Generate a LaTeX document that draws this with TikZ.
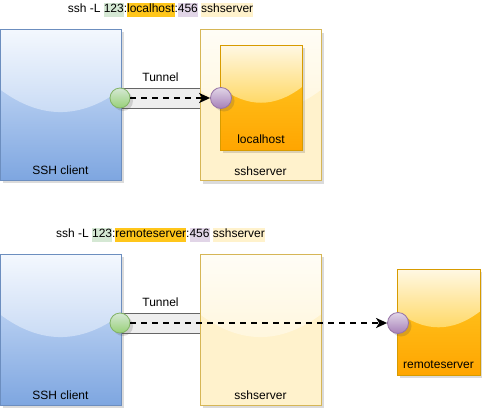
\documentclass[tikz,border=0pt]{standalone}
\usepackage{fontspec}
\setmainfont{Liberation Sans}
\usepackage{xcolor}
\usetikzlibrary{positioning,calc,shadows,arrows.meta}

\definecolor{clientfill}{HTML}{DAE8FC}
\definecolor{clientdark}{HTML}{7EA6E0}
\definecolor{clientline}{HTML}{6C8EBF}
\definecolor{clientglasstop}{HTML}{F4F8FE}
\definecolor{clientglassbot}{HTML}{C6D9F4}
\definecolor{serverfill}{HTML}{FFF2CC}
\definecolor{serverline}{HTML}{D6B656}
\definecolor{serverglasstop}{HTML}{FFFDF6}
\definecolor{serverglassbot}{HTML}{FFF6DC}
\definecolor{hostfill}{HTML}{FFCD28}
\definecolor{hostdark}{HTML}{FFA500}
\definecolor{hostline}{HTML}{D79B00}
\definecolor{hostglasstop}{HTML}{FFF8E4}
\definecolor{hostglassbot}{HTML}{FFD65C}
\definecolor{portin}{HTML}{D5E8D4}
\definecolor{portindark}{HTML}{97D077}
\definecolor{portinline}{HTML}{82B366}
\definecolor{portout}{HTML}{E1D5E7}
\definecolor{portoutdark}{HTML}{A680B8}
\definecolor{portoutline}{HTML}{9673A6}
\definecolor{pipefill}{HTML}{EEEEEE}
\definecolor{pipeline}{HTML}{666666}
\definecolor{hlgreen}{HTML}{D5E8D4}
\definecolor{hlorange}{HTML}{FFC61A}
\definecolor{hlpurple}{HTML}{E1D5E7}
\definecolor{hlyellow}{HTML}{FFF2CC}

\newcommand{\hilite}[2]{{\setlength{\fboxsep}{0pt}\colorbox{#1}{\strut #2}}}

\tikzset{
  every node/.style={font=\fontsize{12}{14.5}\selectfont},
  glass/.style 2 args={path picture={
    \coordinate (glassR) at ($(path picture bounding box.north east)!0.6!(path picture bounding box.south east)$);
    \coordinate (glassL) at ($(path picture bounding box.north west)!0.6!(path picture bounding box.south west)$);
    \shade[top color=#1, bottom color=#2]
      (path picture bounding box.north west) -- (path picture bounding box.north east)
      -- ($(path picture bounding box.north east)!0.4!(path picture bounding box.south east)$)
      .. controls ($(glassR)!1/3!(glassL)$) and ($(glassR)!2/3!(glassL)$)
      .. ($(path picture bounding box.north west)!0.4!(path picture bounding box.south west)$)
      -- cycle;}},
  boxshadow/.style={drop shadow={shadow xshift=3pt, shadow yshift=-3pt, opacity=0.2, fill=black!70}},
  clientbox/.style={draw=clientline, line width=0.8pt, top color=clientfill, bottom color=clientdark,
    glass={clientglasstop}{clientglassbot}, rectangle, inner sep=0pt,
    minimum width=121pt, minimum height=151pt, boxshadow},
  serverbox/.style={draw=serverline, line width=0.8pt, top color=serverfill, bottom color=serverfill,
    glass={serverglasstop}{serverglassbot}, rectangle, inner sep=0pt,
    minimum width=121pt, minimum height=151pt, boxshadow},
  hostbox/.style={draw=hostline, line width=0.8pt, top color=hostfill, bottom color=hostdark,
    glass={hostglasstop}{hostglassbot}, rectangle, inner sep=0pt,
    minimum width=82pt, minimum height=105pt, boxshadow},
  pipe/.style={draw=pipeline, line width=0.8pt, fill=pipefill, rectangle, inner sep=0pt,
    minimum width=85pt, minimum height=20pt},
  portin/.style={circle, draw=portinline, line width=0.8pt, top color=portin, bottom color=portindark,
    inner sep=0pt, minimum size=20pt, boxshadow},
  portout/.style={circle, draw=portoutline, line width=0.8pt, top color=portout, bottom color=portoutdark,
    inner sep=0pt, minimum size=21pt, boxshadow},
  tunnelarrow/.style={-{Stealth[length=11pt, width=10pt, inset=3pt]}, line width=2pt,
    dash pattern=on 6pt off 5pt}
}

\begin{document}
\begin{tikzpicture}[x=1pt, y=-1pt]
\useasboundingbox (0,0) rectangle (482,410);

% local forward
\node[pipe] (pipeA) at (160.5,98) {};
\node[clientbox] (clientA) at (60.5,104.5) {};
\node[serverbox] (serverA) at (260.5,105) {};
\node[hostbox] (localA) at (261,97.5) {};
\node[portin] (inA) at (120,98) {};
\node[portout] (outA) at (221,98) {};
\draw[tunnelarrow] (inA) -- (outA);

\node (titleA) at (160.5,10) {ssh -L \hilite{hlgreen}{123}:\hilite{hlorange}{localhost}:\hilite{hlpurple}{456} \hilite{hlyellow}{sshserver}};
\node[above=2pt] (tunnelA) at (pipeA.north) {Tunnel};
\node[above=2pt] (clientAtext) at (clientA.south) {SSH client};
\node[above=2pt] (serverAtext) at (serverA.south) {sshserver};
\node[above=3pt] (localAtext) at (localA.south) {localhost};

% remote forward
\node[pipe] (pipeB) at (160.5,323) {};
\node[clientbox] (clientB) at (60.5,329.5) {};
\node[serverbox] (serverB) at (260.5,329.5) {};
\node[hostbox, minimum width=83pt, minimum height=106pt] (remoteB) at (438.5,322) {};
\node[portin] (inB) at (120,323) {};
\node[portout] (outB) at (398,323) {};
\draw[tunnelarrow] (inB) -- (outB);

\node (titleB) at (160.5,235) {ssh -L \hilite{hlgreen}{123}:\hilite{hlorange}{remoteserver}:\hilite{hlpurple}{456} \hilite{hlyellow}{sshserver}};
\node[above=2pt] (tunnelB) at (pipeB.north) {Tunnel};
\node[above=2pt] (clientBtext) at (clientB.south) {SSH client};
\node[above=2pt] (serverBtext) at (serverB.south) {sshserver};
\node[above=3pt] (remoteBtext) at (remoteB.south) {remoteserver};
\end{tikzpicture}
\end{document}
